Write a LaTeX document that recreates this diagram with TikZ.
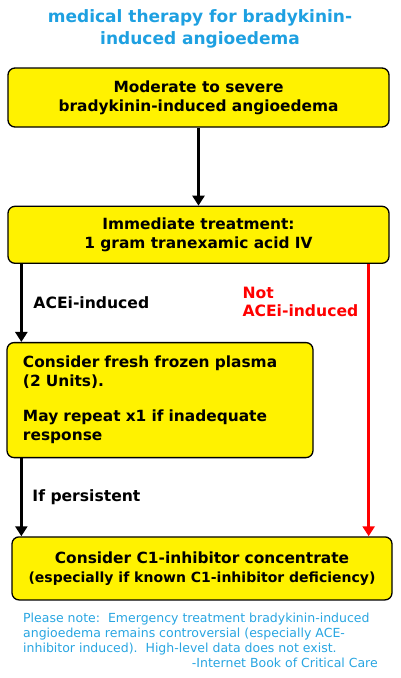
\documentclass[tikz,border=0pt]{standalone}
\usepackage{fontspec}
\setmainfont{DejaVu Sans}
\usepackage{tikz}
\usetikzlibrary{arrows.meta,positioning}
\definecolor{titleblue}{RGB}{30,160,225}
\definecolor{noteblue}{RGB}{40,165,225}
\tikzset{
    %Define standard arrow tip
    >={Triangle[width=12pt,length=10pt]},
    %Define style for boxes
    stepbox/.style={
           rectangle,
           rounded corners=7pt,
           draw=black, line width=1.3pt,
           fill=yellow,
           inner sep=0pt,
           font=\fontsize{15.4}{19}\selectfont\bfseries,
           align=center},
    lbl/.style={
           font=\fontsize{15.6}{18}\selectfont\bfseries,
           align=left},
    notetext/.style={
           font=\fontsize{12.5}{15}\selectfont,
           text=noteblue,
           inner sep=0pt},
    % Define arrow style
    flow/.style={
           ->,
           line width=3.6pt},
    redflow/.style={
           ->,
           draw=red,
           line width=3pt}
}
\begin{document}
\begin{tikzpicture}[x=1pt,y=-1pt,node distance=78pt]
\useasboundingbox (0,0) rectangle (400,678);
 %nodes
\node[font=\fontsize{17}{22}\selectfont\bfseries, text=titleblue, align=center](title) at (200,29)
    {medical therapy for bradykinin-\\induced angioedema};
\node[stepbox, minimum width=381pt, minimum height=59pt](box1) at (198.5,97.5)
    {Moderate to severe\\bradykinin-induced angioedema};
\node[stepbox, minimum width=381pt, minimum height=57pt, below=of box1](box2)
    {Immediate treatment:\\1 gram tranexamic acid IV};
\node[stepbox, minimum width=306pt, minimum height=115pt, align=left, text width=274pt,
      below=of box2.south west, anchor=north west, xshift=-1pt](box3)
    {Consider fresh frozen plasma\\(2 Units).\\[16pt]May repeat x1 if inadequate\\response};
\node[stepbox, minimum width=380pt, minimum height=63pt,
      below=of box3.south west, anchor=north west, xshift=5pt](box4)
    {Consider C1-inhibitor concentrate\\{\fontsize{14}{18}\selectfont(especially if known C1-inhibitor deficiency)}};
\node[lbl, text=red, anchor=west](notace) at (239,302) {Not\\ACEi-induced};
\node[notetext, align=left, anchor=north west](note) at (23,613)
    {Please note:\ \ Emergency treatment bradykinin-induced\\angioedema remains controversial (especially ACE-\\inhibitor induced).\ \ High-level data does not exist.};
\node[notetext, anchor=north east](source) at (378,658)
    {-Internet Book of Critical Care};
 %arrows
\draw[flow] (box1.south) -- (box2.north);
\draw[flow] ([xshift=14pt]box2.south west) -- ([xshift=14pt]box2.south west |- box3.north)
    node[lbl, midway, right=7pt]{ACEi-induced};
\draw[flow] ([xshift=15pt]box3.south west) -- ([xshift=15pt]box3.south west |- box4.north)
    node[lbl, midway, right=6pt]{If persistent};
\draw[redflow] ([xshift=-21pt]box2.south east) -- ([xshift=-21pt]box2.south east |- box4.north);
\end{tikzpicture}
\end{document}
